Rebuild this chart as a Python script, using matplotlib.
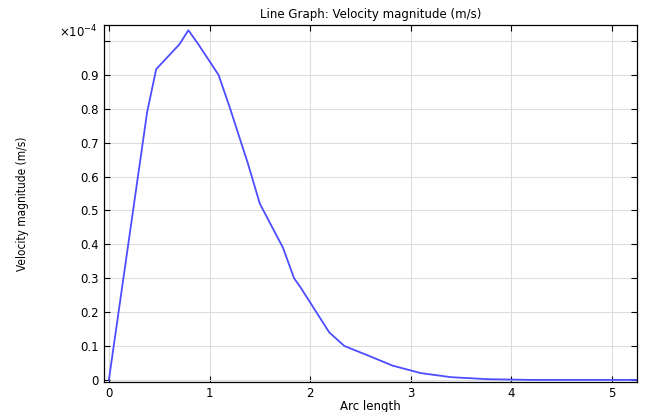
import matplotlib
matplotlib.use("Agg")
import matplotlib.pyplot as plt
import numpy as np

# arc length vs velocity magnitude (x1e-4 m/s)
arc_length = [0.0, 0.38, 0.47, 0.70, 0.79, 0.89, 1.09, 1.20, 1.38, 1.50,
              1.73, 1.84, 1.90, 2.19, 2.34, 2.55, 2.82, 3.10, 3.40, 3.77,
              4.2, 4.8, 5.25]
velocity = [0.0, 0.79, 0.917, 0.99, 1.032, 0.99, 0.90, 0.805, 0.64, 0.52,
            0.39, 0.30, 0.275, 0.14, 0.10, 0.075, 0.042, 0.02, 0.008, 0.002,
            0.0, 0.0, 0.0]
x_ticks = [0, 1, 2, 3, 4, 5]
y_ticks = [0, 0.1, 0.2, 0.3, 0.4, 0.5, 0.6, 0.7, 0.8, 0.9, 1.0]
y_labels = ["0", "0.1", "0.2", "0.3", "0.4", "0.5", "0.6", "0.7", "0.8", "0.9", ""]

fig = plt.figure(figsize=(6.45, 4.12), dpi=100)
ax = fig.add_axes([0.161, 0.073, 0.827, 0.866])

ax.plot(arc_length, velocity, color="#4d4dff", linewidth=1.3)

ax.set_xlim(-0.05, 5.25)
ax.set_ylim(-0.006, 1.047)
ax.set_xticks(x_ticks)
ax.set_yticks(y_ticks)
ax.set_yticklabels(y_labels)
ax.tick_params(direction="in", top=True, right=True, labelsize=8.5, length=4)
ax.grid(True, color="#dddddd", linewidth=0.8)
ax.set_axisbelow(True)
for s in ax.spines.values():
    s.set_linewidth(0.9)

ax.set_title("Line Graph: Velocity magnitude (m/s)", fontsize=8.5, pad=5)
ax.set_xlabel("Arc length", fontsize=8.5, labelpad=0)
ax.set_ylabel("Velocity magnitude (m/s)", fontsize=8.5,
              fontstretch="condensed")
ax.yaxis.set_label_coords(-0.14, 0.5)
ax.text(-0.012, 0.98, r"$\times$10$^{-4}$", transform=ax.transAxes,
        ha="right", va="center", fontsize=8.5)

fig.savefig("out.png", dpi=100)
